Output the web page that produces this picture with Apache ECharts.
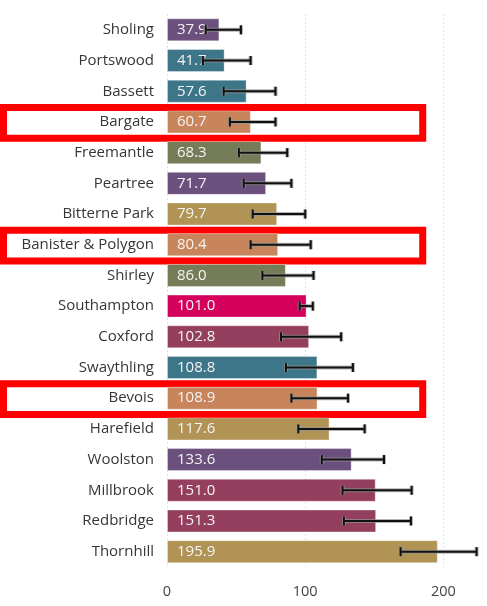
<!DOCTYPE html>
<html>
<head>
<meta charset="utf-8">
<script src="https://cdn.jsdelivr.net/npm/echarts@6/dist/echarts.min.js"></script>
<style>
  html, body { margin: 0; padding: 0; background: #fff; }
  #chart { width: 487px; height: 606px; }
</style>
</head>
<body>
<div id="chart"></div>
<script>
// wards, rate and its confidence interval
var wards = ['Sholing', 'Portswood', 'Bassett', 'Bargate', 'Freemantle', 'Peartree', 'Bitterne Park',
  'Banister & Polygon', 'Shirley', 'Southampton', 'Coxford', 'Swaythling', 'Bevois', 'Harefield',
  'Woolston', 'Millbrook', 'Redbridge', 'Thornhill']
var rates = [37.9, 41.7, 57.6, 60.7, 68.3, 71.7, 79.7, 80.4, 86.0, 101.0, 102.8, 108.8, 108.9, 117.6,
  133.6, 151.0, 151.3, 195.9]
var lower = [28, 26, 41, 45.5, 52, 55.5, 62, 60.5, 69, 96, 82.5, 86, 90, 95, 112, 127, 128, 169]
var upper = [53.5, 60.5, 78.5, 78.5, 87, 90, 100, 104, 106, 105.5, 126, 134.5, 131, 143, 157, 177, 176.5, 224]
var highlighted = ['Bargate', 'Banister & Polygon', 'Bevois']
var xTicks = [0, 100, 200]

// colours
var purple = '#6B4F7D'
var teal = '#3D7589'
var orange = '#C8845A'
var olive = '#747D57'
var gold = '#B09355'
var magenta = '#D5005B'
var maroon = '#943F5E'
var barColors = [purple, teal, teal, orange, olive, purple, gold, orange, olive, magenta, maroon, teal,
  orange, gold, purple, maroon, maroon, gold]

var font = '"Open Sans", "Noto Sans", sans-serif'
var boxRight = 185

var chart = echarts.init(document.getElementById('chart'))

var barData = rates.map(function(v, i) {
  return { value: v, itemStyle: { color: barColors[i] }}
})
var errData = wards.map(function(w, i) {
  return [lower[i], i, upper[i]]
})
var boxData = highlighted.map(function(w) {
  return [boxRight, wards.indexOf(w)]
})

chart.setOption({
  animation: false,
  grid: { left: 167, right: 9, top: 14.5, bottom: 39 },
  xAxis: {
    type: 'value',
    min: 0,
    max: 225,
    interval: 100,
    axisLine: { show: false },
    axisTick: { show: false },
    axisLabel: {
      margin: 17,
      fontSize: 14.5,
      fontFamily: font,
      color: '#444',
      showMaxLabel: false,
      formatter: function(v) {
        return xTicks.indexOf(v) >= 0 ? String(v) : ''
      }
    },
    splitLine: {
      showMaxLine: false,
      lineStyle: { type: [1, 3], color: '#c4c4c4', width: 1 }
    }
  },
  yAxis: {
    type: 'category',
    inverse: true,
    z: 3,
    data: wards,
    axisLine: { show: false },
    axisTick: { show: false },
    axisLabel: {
      margin: 13,
      fontSize: 15,
      fontFamily: font,
      color: '#363636'
    }
  },
  series: [
    {
      // highlight boxes
      type: 'custom',
      z: 1,
      silent: true,
      clip: false,
      encode: { x: 0, y: 1 },
      data: boxData,
      renderItem: function(params, api) {
        var idx = api.value(1)
        var c = api.coord([api.value(0), idx])
        var band = api.size([0, 1])[1]
        return {
          type: 'rect',
          shape: { x: 3.5, y: c[1] - band / 2 + 1, width: c[0] - 3.5, height: band },
          style: { fill: '#fff', stroke: '#ff0000', lineWidth: 7 }
        }
      }
    },
    {
      type: 'bar',
      z: 2,
      barWidth: 23,
      data: barData,
      itemStyle: { borderColor: 'rgba(255,255,255,0.35)', borderWidth: 1 },
      label: {
        show: true,
        position: 'insideLeft',
        distance: 10,
        fontSize: 15,
        fontFamily: font,
        color: '#f4f4f4',
        formatter: function(p) {
          return p.value.toFixed(1)
        }
      }
    },
    {
      // error bars
      type: 'custom',
      z: 5,
      silent: true,
      encode: { x: [0, 2], y: 1 },
      data: errData,
      renderItem: function(params, api) {
        var idx = api.value(1)
        var lo = api.coord([api.value(0), idx])
        var hi = api.coord([api.value(2), idx])
        var y = lo[1]
        var h = 4.5
        var segs = [
          [lo[0], y, hi[0], y],
          [lo[0], y - h, lo[0], y + h],
          [hi[0], y - h, hi[0], y + h]
        ]
        var children = []
        segs.forEach(function(s) {
          children.push({
            type: 'line',
            shape: { x1: s[0], y1: s[1], x2: s[2], y2: s[3] },
            style: { stroke: 'rgba(150,150,150,0.7)', lineWidth: 4 }
          })
        })
        segs.forEach(function(s) {
          children.push({
            type: 'line',
            shape: { x1: s[0], y1: s[1], x2: s[2], y2: s[3] },
            style: { stroke: '#111', lineWidth: 2 }
          })
        })
        return { type: 'group', children: children }
      }
    }
  ]
})
</script>
</body>
</html>
